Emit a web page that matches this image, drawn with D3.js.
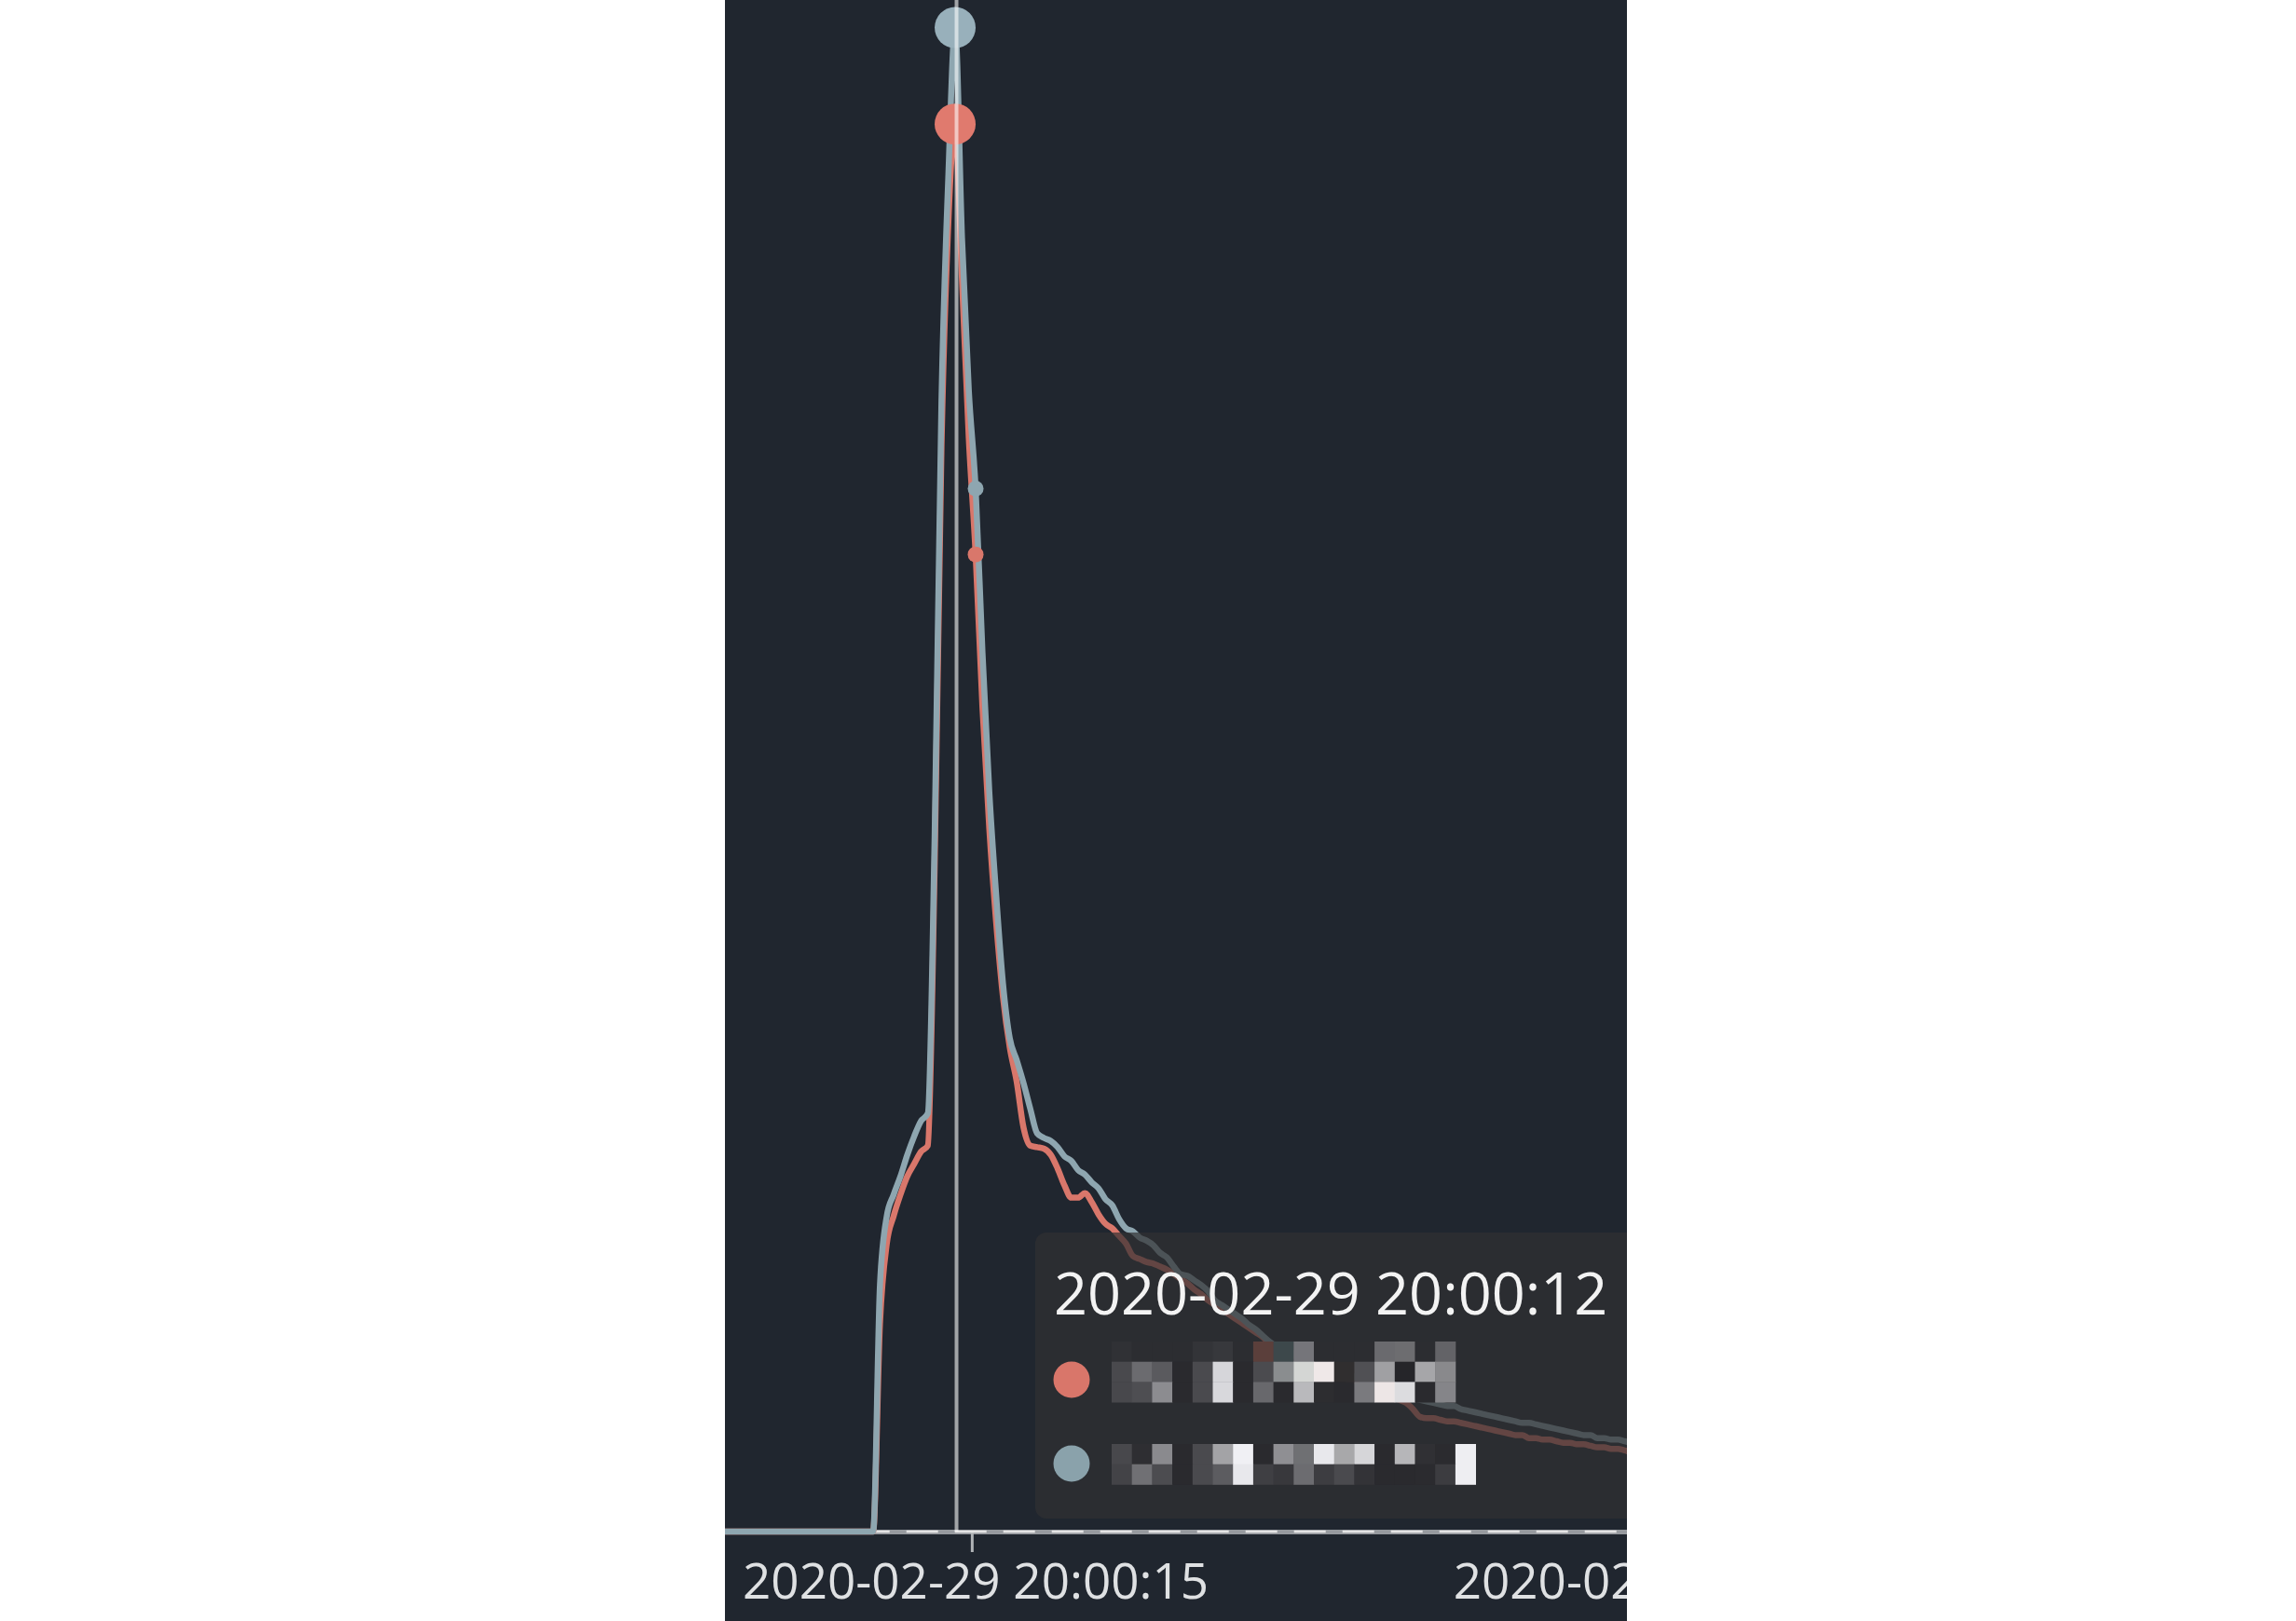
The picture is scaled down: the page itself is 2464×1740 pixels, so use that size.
<!DOCTYPE html>
<html>
<head>
<meta charset="utf-8">
<script src="https://cdn.jsdelivr.net/npm/d3@7"></script>
<style>
html,body{margin:0;padding:0;background:#ffffff;}
svg{display:block;}
</style>
</head>
<body>
<svg id="chart" width="2464" height="1740"></svg>
<script>
// ---------------- data ----------------
const startTime = "2020-02-29 19:59:37";   // first category (1 s sampling)
const categoryCount = 146;
const hoverCategory = "2020-02-29 20:00:12";
const tickLabels = ["2020-02-29 20:00:15", "2020-02-29 20:01:59"];
const symbolCategories = ["2020-02-29 20:00:15"];

const seriesRed = [
  0,0,0,0,0,0,0,0,0,0,0,0,0,0,0,0,0,0,0,0,0,0,0,0,
  13.6,18.8,20.6,22.0,23.2,24.0,24.8,25.2,43.4,70.8,85.4,91.9,
  81.8,71.4,63.8,53.8,45.9,39.8,34.9,31.6,29.4,26.4,25.2,25.1,25.0,24.6,23.7,22.6,
  21.8,21.8,22.1,21.5,20.7,20.1,19.8,19.3,18.8,18.0,17.8,17.6,17.5,17.3,17.1,16.8,
  16.5,16.2,15.8,15.5,15.1,14.8,14.5,14.2,13.9,13.6,13.3,13.0,12.7,12.3,12.0,11.7,
  11.6,11.4,11.2,11.0,10.8,10.6,10.5,10.2,10.0,9.9,9.7,9.5,9.3,9.1,8.9,8.8,
  8.6,8.4,8.0,7.5,7.4,7.4,7.3,7.2,7.2,7.1,7.0,6.9,6.8,6.7,6.6,6.5,
  6.4,6.3,6.3,6.1,6.1,6.0,6.0,5.9,5.8,5.8,5.7,5.7,5.6,5.5,5.5,5.4,
  5.4,5.3,5.2,5.2
];
const seriesBlue = [
  0,0,0,0,0,0,0,0,0,0,0,0,0,0,0,0,0,0,0,0,0,0,0,0,
  16.1,20.6,22.0,23.2,24.6,25.8,26.8,27.3,45.3,73.8,88.4,98.2,
  84.5,74.5,68.1,57.4,48.3,41.6,35.8,32.2,30.8,29.3,27.6,26.0,25.7,25.5,25.1,24.5,
  24.2,23.6,23.3,22.8,22.4,21.7,21.3,20.4,19.8,19.6,19.2,19.0,18.7,18.2,17.9,17.3,
  16.8,16.7,16.4,16.1,15.7,15.1,14.8,14.5,14.2,13.9,13.5,13.2,12.8,12.4,12.1,11.9,
  11.7,11.6,11.4,11.3,11.1,10.9,10.7,10.5,10.3,10.2,10.0,9.8,9.6,9.4,9.2,9.1,
  8.9,8.8,8.7,8.6,8.5,8.4,8.3,8.2,8.2,8.0,7.9,7.8,7.7,7.6,7.5,7.4,
  7.3,7.2,7.1,7.1,7.0,6.9,6.8,6.7,6.6,6.5,6.4,6.3,6.3,6.1,6.1,6.0,
  6.0,5.9,5.8,5.8
];

// pixelated (blurred) series names in the tooltip: cell shades, row by row
const mosaicRed = [
  ["#303135","#2c2d31","#2c2d31","#2c2d31","#333438","#37383c","#2c2d31","#5b3f3b","#3d484b","#75757a","#2c2d31","#2c2d31","#2c2d31","#6a6a6e","#6d6d70","#2c2d31","#636367"],
  ["#49494d","#6b6b6f","#5a5a5e","#2a2a2e","#4a4a4e","#d6d6da","#2a2a2e","#4b4b4f","#8a8d8f","#d4d6d4","#efe8e8","#302e2f","#505054","#a0a0a3","#252529","#a6a6a9","#89898c"],
  ["#48484c","#4e4e52","#8c8c90","#2a2a2e","#4a4a4e","#d8d8dc","#2a2a2e","#68686c","#2a2a2e","#b9b9bc","#2d2d30","#2a2a2e","#7a7a7e","#ede6e6","#dcdcdf","#2a2a2e","#858589"]
];
const mosaicBlue = [
  ["#48484c","#2e2e32","#8a8a8e","#2a2a2e","#4a4a4e","#a3a3a6","#f0f0f4","#2a2a2e","#8f8f93","#6f7073","#e8e8ec","#a8a8aa","#d6d6d9","#2a2a2e","#b6b6b9","#303034","#2b2b2f","#eeeef2"],
  ["#434347","#707074","#4c4c50","#2a2a2e","#4a4a4e","#5c5c60","#e8e8ec","#3f3f43","#38383c","#6c6c70","#3d3d41","#4a4a4e","#333337","#2a2a2e","#2a2a2e","#2b2b2f","#3c3c40","#eeeef2"]
];

// ---------------- layout / style ----------------
const W = 2464, H = 1740;
const panel = {x: 778, w: 968};
const plotLeft = 764.7, step = 7.333, baseY = 1644;
const colRed = "#d9776b", colBlue = "#8ea6b0";
const font = "'Open Sans', 'Noto Sans', sans-serif";

const svg = d3.select("#chart");
svg.append("rect").attr("width", W).attr("height", H).attr("fill", "#ffffff");
svg.append("defs").append("clipPath").attr("id", "clip")
  .append("rect").attr("x", panel.x).attr("y", 0).attr("width", panel.w).attr("height", H);
const g = svg.append("g").attr("clip-path", "url(#clip)");
g.append("rect").attr("x", panel.x).attr("y", 0).attr("width", panel.w).attr("height", H).attr("fill", "#20262f");

const parse = d3.timeParse("%Y-%m-%d %H:%M:%S");
const fmt = d3.timeFormat("%Y-%m-%d %H:%M:%S");
const t0 = parse(startTime);
const categories = d3.range(categoryCount).map(i => fmt(d3.timeSecond.offset(t0, i)));

const x = d3.scaleBand().domain(categories)
  .range([plotLeft, plotLeft + categoryCount * step]).paddingInner(0).paddingOuter(0);
const cx = c => x(c) + x.bandwidth() / 2;
const y = d3.scaleLinear().domain([0, 100]).range([baseY, 0]);

// axis
const axis = d3.axisBottom(x).tickValues(tickLabels).tickSize(22).tickSizeOuter(0);
const ag = g.append("g").attr("transform", `translate(0,${baseY})`).call(axis);
ag.select(".domain").attr("stroke", "#979a9f").attr("stroke-width", 5);
ag.selectAll(".tick line").attr("stroke", "#b0b3b6").attr("stroke-width", 3)
  .attr("x1", -x.step() / 2).attr("x2", -x.step() / 2);
ag.selectAll(".tick text").attr("font-size", 53).attr("font-family", font).attr("font-weight", 500)
  .attr("fill", "#dfe1e3").attr("dy", 0).attr("y", 72);

// dashed overlay on the zero line
g.append("line").attr("x1", x.range()[0]).attr("x2", x.range()[1])
  .attr("y1", baseY).attr("y2", baseY)
  .attr("stroke", "#e4e4e4").attr("stroke-width", 2.5).attr("stroke-dasharray", "34,18");

// series lines
const line = d3.line().x((d, i) => cx(categories[i])).y(d => y(d)).curve(d3.curveMonotoneX);
const series = [{name: "red", values: seriesRed, color: colRed}, {name: "blue", values: seriesBlue, color: colBlue}];
series.forEach(s => {
  g.append("path").datum(s.values).attr("d", line).attr("fill", "none")
    .attr("stroke", s.color).attr("stroke-width", 6.5).attr("stroke-linejoin", "round");
});

// symbols at labelled categories
series.forEach(s => {
  symbolCategories.forEach(c => {
    const i = categories.indexOf(c);
    g.append("circle").attr("cx", cx(c)).attr("cy", y(s.values[i])).attr("r", 8.5).attr("fill", s.color);
  });
});

// hover emphasis circles
const hi = categories.indexOf(hoverCategory);
series.forEach(s => {
  g.append("circle").attr("cx", cx(hoverCategory)).attr("cy", y(s.values[hi])).attr("r", 22)
    .attr("fill", s.name === "red" ? "#e07a6e" : "#98b0bb");
});

// crosshair
g.append("line").attr("x1", cx(hoverCategory) + 1.5).attr("x2", cx(hoverCategory) + 1.5)
  .attr("y1", 0).attr("y2", baseY)
  .attr("stroke", "#ffffff").attr("stroke-opacity", 0.58).attr("stroke-width", 4);

// tooltip
const tip = g.append("g");
tip.append("rect").attr("x", 1111).attr("y", 1323).attr("width", 660).attr("height", 307)
  .attr("rx", 12).attr("fill", "rgb(49,48,50)").attr("fill-opacity", 0.7);
tip.append("text").attr("x", 1131).attr("y", 1411).attr("font-size", 63).attr("font-family", font)
  .attr("fill", "#f3f3f3").text(hoverCategory);
tip.append("circle").attr("cx", 1150).attr("cy", 1481).attr("r", 19.5).attr("fill", "#d9766a");
tip.append("circle").attr("cx", 1150).attr("cy", 1571).attr("r", 19.5).attr("fill", "#8aa2ab");
const cell = 21.7;
function drawMosaic(rows, x0, y0) {
  rows.forEach((row, r) => row.forEach((c, k) => {
    tip.append("rect").attr("x", x0 + k * cell).attr("y", y0 + r * cell)
      .attr("width", cell + 0.4).attr("height", cell + 0.4).attr("fill", c);
  }));
}
drawMosaic(mosaicRed, 1193, 1440);
drawMosaic(mosaicBlue, 1193, 1550);
</script>
</body>
</html>
